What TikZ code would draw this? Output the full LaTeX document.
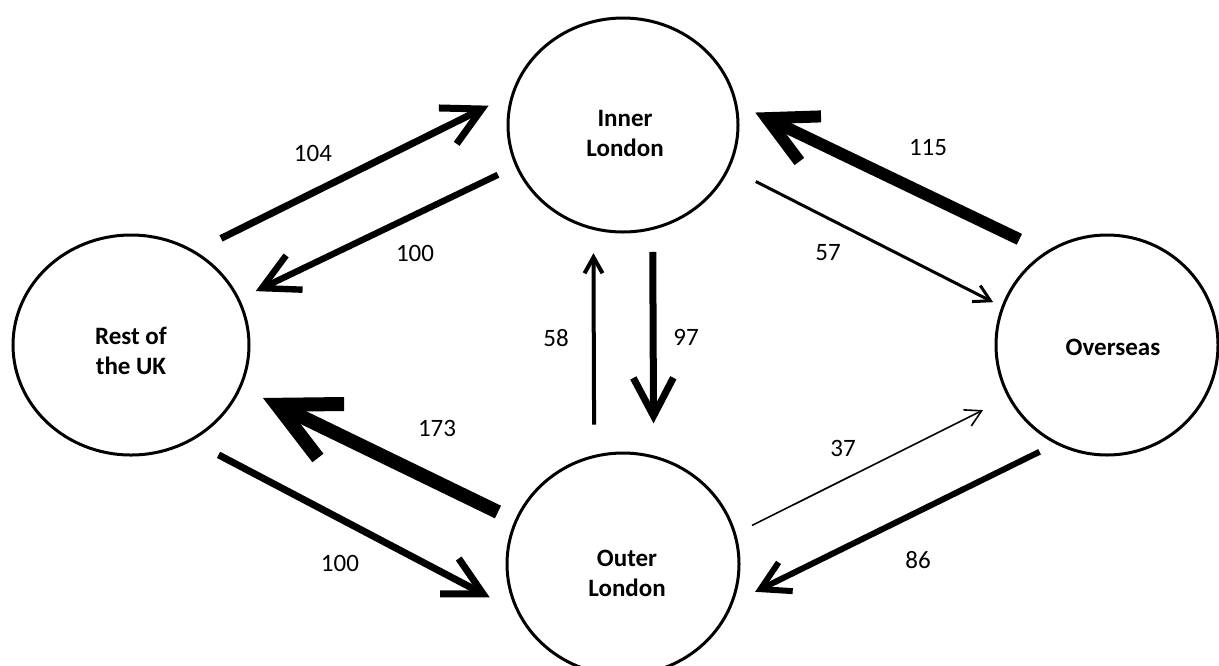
\documentclass[tikz,border=0pt]{standalone}
\usepackage{fontspec}
\setmainfont{Carlito}
\usetikzlibrary{arrows.meta,shapes.geometric}
\begin{document}
\begin{tikzpicture}[x=0.5pt,y=-0.5pt,
  place/.style={ellipse,draw,line width=1.5pt,outer sep=0pt,inner sep=0pt},
  placename/.style={font=\fontsize{12.5}{15}\selectfont\bfseries,align=center,inner sep=0pt},
  num/.style={font=\fontsize{12.5}{15}\selectfont,inner sep=0pt},
  fl/.style n args={3}{line width=#1,line cap=butt,-{Straight Barb[length=#2,width=#3]}}]
\useasboundingbox (0,0) rectangle (1219,665);

% places
\node[place,minimum width=118pt,minimum height=110pt] (uk) at (131,345) {};
\node[place,minimum width=115pt,minimum height=107pt] (inner) at (623,125) {};
\node[place,minimum width=111pt,minimum height=110pt] (over) at (1107,345) {};
\node[place,minimum width=116pt,minimum height=111pt] (outer) at (623,564) {};

\node[placename] (ukT) at (131,351) {Rest of\\the UK};
\node[placename] (innerT) at (625,133) {Inner\\London};
\node[placename] (overT) at (1113,347) {Overseas};
\node[placename] (outerT) at (627,573) {Outer\\London};

% flows
\draw[fl={3.5pt}{19pt}{20pt},shorten <=15.2pt,shorten >=13.7pt] (uk.56.6) -- (inner.164.8);
\draw[fl={3.2pt}{18pt}{19pt},shorten <=10.4pt,shorten >=9.6pt] (inner.201.2) -- (uk.23.7);
\draw[fl={6pt}{24pt}{25pt},shorten <=15.3pt,shorten >=10.9pt] (over.123.9) -- (inner.11.3);
\draw[fl={1.5pt}{8pt}{9pt},shorten <=15.3pt,shorten >=5.4pt] (inner.-22.9) -- (over.160.4);
\draw[fl={2pt}{8pt}{9pt},shorten <=15.9pt,shorten >=12.4pt] (outer.105.6) -- (inner.-106.2);
\draw[fl={3.5pt}{19pt}{20pt},shorten <=11.8pt,shorten >=16.8pt] (inner.-74.3) -- (outer.74.9);
\draw[fl={7pt}{30pt}{30pt},shorten <=10.1pt,shorten >=12.7pt] (outer.158) -- (uk.-21);
\draw[fl={3.5pt}{19pt}{20pt},shorten <=15.9pt,shorten >=16.4pt] (uk.-58.3) -- (outer.205.4);
\draw[fl={0.8pt}{8pt}{9pt},shorten <=9.7pt,shorten >=14.6pt] (outer.15.2) -- (over.208);
\draw[fl={3pt}{14pt}{16pt},shorten <=9.7pt,shorten >=13.2pt] (over.243.3) -- (outer.-20.1);

% numbers
\node[num] (n104) at (313,153) {104};
\node[num] (n100a) at (415,253) {100};
\node[num] (n115) at (928,148) {115};
\node[num] (n57) at (828,253) {57};
\node[num] (n58) at (556,338) {58};
\node[num] (n97) at (686,337) {97};
\node[num] (n173) at (437,428) {173};
\node[num] (n100b) at (340,563) {100};
\node[num] (n37) at (843,448) {37};
\node[num] (n86) at (918,560) {86};
\end{tikzpicture}
\end{document}
